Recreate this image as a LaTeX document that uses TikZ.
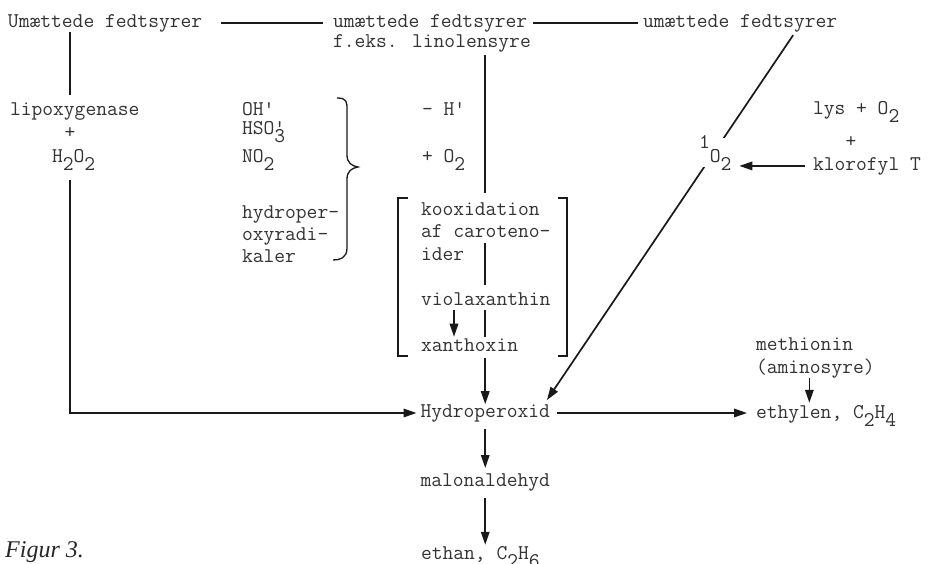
\documentclass[tikz,border=0pt]{standalone}
\usepackage{fontspec}
\newfontfamily\seriff{Liberation Serif}
\usetikzlibrary{arrows.meta,backgrounds}
\newcommand{\lowr}[1]{\raisebox{-8pt}{#1}}
\newcommand{\highr}[1]{\raisebox{14pt}{#1}}
\newcommand{\apo}{\textquotesingle}
\tikzset{
  txt/.style={font=\ttfamily\fontsize{20.95}{25}\selectfont, text=black!80, inner sep=0pt, outer sep=0pt, fill=white, anchor=base west},
  ctxt/.style={txt, anchor=base},
  conn/.style={line width=1.7pt, black!90},
  arr/.style={conn, -{Triangle[length=13pt,width=8.5pt]}},
}
\begin{document}
\begin{tikzpicture}[x=1pt,y=-1pt]
\useasboundingbox (0,0) rectangle (936,563);
% top row
\node[txt] (u1) at (8,27) {Umættede fedtsyrer};
\node[txt] (u2) at (333,27) {umættede fedtsyrer};
\node[txt] (lin) at (333,47) {f.eks. linolensyre};
\node[txt] (u3) at (643,27) {umættede fedtsyrer};
% left column
\node[txt] (lipo) at (10,115) {lipoxygenase};
\node[ctxt] (plus1) at (70,138) {+};
\node[txt] (h2o2) at (52,162) {H\lowr{2}O\lowr{2}};
% radicals
\node[txt] (oh) at (242,115) {OH\apo};
\node[txt] (hso) at (242,134) {HSO\rlap{\apo}\lowr{3}};
\node[txt] (no2) at (242,162) {NO\lowr{2}};
\node[txt] (hyd1) at (242,218) {hydroper-};
\node[txt] (hyd2) at (242,240) {oxyradi-};
\node[txt] (hyd3) at (242,262) {kaler};
% centre column
\node[txt] (minush) at (422,115) {- H\apo};
\node[txt] (pluso2) at (422,162) {+ O\lowr{2}};
\node[txt] (koox) at (421,215) {kooxidation};
\node[txt] (afc) at (421,237) {af caroteno-};
\node[txt] (ider) at (421,260) {ider};
\node[txt] (viol) at (421,305) {violaxanthin};
\node[txt] (xan) at (421,351) {xanthoxin};
\node[txt] (hydro) at (420.5,417) {Hydroperoxid};
\node[txt] (malon) at (420.5,486) {malonaldehyd};
\node[txt] (ethan) at (421,559) {ethan, C\lowr{2}H\lowr{6}};
% right side
\node[txt] (lys) at (813,114) {lys + O\lowr{2}};
\node[ctxt] (plus2) at (851,147) {+};
\node[txt] (klor) at (813,170) {klorofyl T};
\node[txt, inner ysep=-3pt] (o2) at (699,162) {\highr{1}O\lowr{2}};
\node[txt] (meth) at (756,350) {methionin};
\node[txt] (amino) at (756,373) {(aminosyre)};
\node[txt] (eth) at (756,418) {ethylen, C\lowr{2}H\lowr{4}};
% caption
\node[font=\seriff\itshape\fontsize{24}{28}\selectfont, anchor=base west, inner sep=0pt, text=black!85] (fig) at (5,557) {Figur 3.};

\begin{pgfonlayer}{background}
\fill[white] (0,0) rectangle (936,563);
\draw[arr] ([xshift=53pt,yshift=-3.4pt]u3.south) -- ([xshift=-3pt,yshift=4.2pt]hydro.north east);
\end{pgfonlayer}

% top connectors
\draw[conn, shorten <=19pt, shorten >=10pt] (u1.east) -- (u2.west);
\draw[conn, shorten <=6pt, shorten >=5pt] (u2.east) -- (u3.west);
% left path
\draw[conn, shorten <=0.5pt, shorten >=7pt] (u1.south -| plus1) -- (lipo.north -| plus1);
\draw[arr, shorten <=10pt, shorten >=4pt] (h2o2.south -| plus1) |- (hydro.west);
% central path, interrupted by the texts
\draw[conn, shorten <=3.5pt, shorten >=9pt] (lin.south -| hydro.north) -- (koox.north -| hydro.north);
\draw[conn, shorten <=6pt, shorten >=7pt] (afc.south -| hydro.north) -- (viol.north -| hydro.north);
\draw[conn, shorten <=5pt, shorten >=1.5pt] (viol.south -| hydro.north) -- (xan.north -| hydro.north);
\draw[arr, shorten <=7pt] (xan.south -| hydro.north) -- (hydro.north);
\draw[arr, shorten <=5pt, shorten >=1.5pt] ([xshift=33pt]viol.south west) -- ([xshift=33pt]viol.south west |- xan.north);
% right side
\draw[arr, shorten <=8pt, shorten >=8pt] (klor.west) -- (klor.west -| o2.east);
\draw[arr, shorten >=2.2pt] ([xshift=-6pt]amino.south) -- ([xshift=-6pt]amino.south |- eth.north);
\draw[arr, shorten <=7pt, shorten >=9pt] (hydro.east) -- (hydro.east -| eth.west);
% bottom chain
\draw[arr, shorten <=7pt, shorten >=5.2pt] (hydro.south) -- (malon.north);
\draw[arr, shorten <=7pt, shorten >=1.2pt] (malon.south) -- (malon.south |- ethan.north);

% brace
\draw[conn, line width=1.3pt] (337,98) .. controls (347,98) and (347,102) .. (347,110) -- (347,155)
  .. controls (347,163) and (352,166) .. (358,167)
  .. controls (352,168) and (347,171) .. (347,179) -- (347,248)
  .. controls (347,258) and (340,260) .. (333,260);
% brackets
\draw[conn, line width=1.3pt] (408,198) -- (398,198) -- (398,356) -- (408,356);
\draw[conn, line width=1.3pt] (558,198) -- (567,198) -- (567,356) -- (558,356);
\end{tikzpicture}
\end{document}
